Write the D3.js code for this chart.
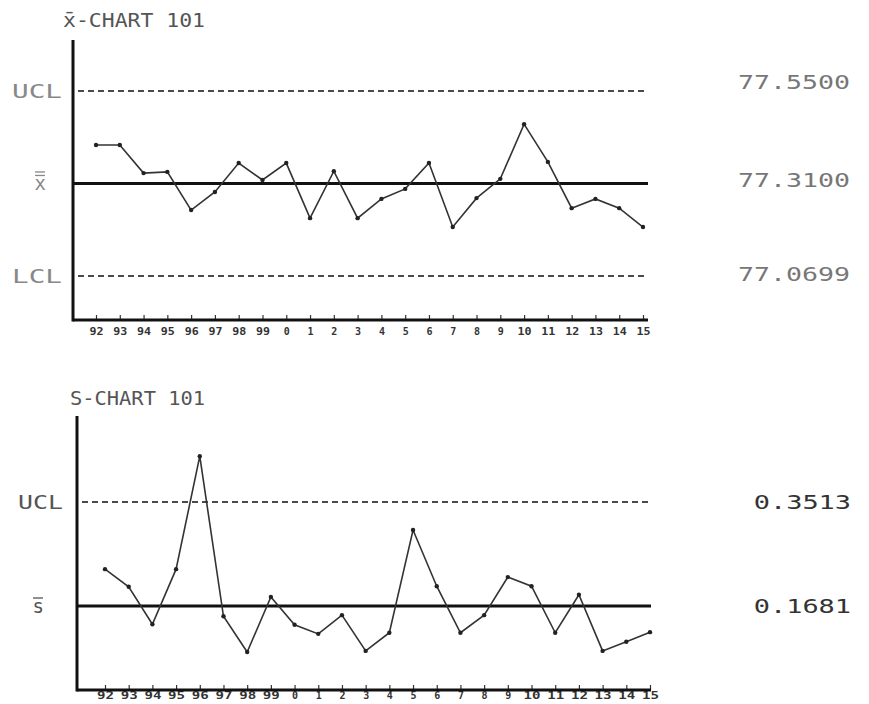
<!DOCTYPE html>
<html lang="en">
<head>
	<meta charset="UTF-8"/>
	<title>X-bar and S control charts 101</title>
	<script src="https://d3js.org/d3.v7.min.js"></script>
	<style>
		body { margin: 0; background: #fff; }
		text { font-family: "DejaVu Sans Mono", monospace; }
	</style>
</head>
<body>
	<script>
		var w = 869;
		var h = 704;

		// sample labels (years 92..99 then 0..15)
		var samples = ["92","93","94","95","96","97","98","99","0","1","2","3","4","5","6","7","8","9","10","11","12","13","14","15"];

		// x-bar chart values
		var xbarValues = [77.410, 77.410, 77.337, 77.340, 77.241, 77.288, 77.363, 77.319, 77.363, 77.220, 77.342, 77.220,
		                  77.270, 77.296, 77.363, 77.197, 77.272, 77.322, 77.464, 77.366, 77.246, 77.270, 77.246, 77.197];
		var xbarLimits = { ucl: 77.5500, cl: 77.3100, lcl: 77.0699 };
		var xbarLimitText = ["77.5500", "77.3100", "77.0699"];

		// s chart values
		var sValues = [0.233, 0.202, 0.136, 0.233, 0.432, 0.150, 0.087, 0.184, 0.135, 0.119, 0.152, 0.089,
		               0.121, 0.302, 0.203, 0.121, 0.152, 0.219, 0.203, 0.121, 0.188, 0.089, 0.105, 0.122];
		var sLimits = { ucl: 0.3513, cl: 0.1681 };
		var sLimitText = ["0.3513", "0.1681"];

		var svg = d3.select("body")
					.append("svg")
					.attr("width", w)
					.attr("height", h);

		//draws one control chart panel
		function drawChart(opt) {
			var g = svg.append("g");

			var xScale = d3.scalePoint()
							.domain(samples)
							.range(opt.xRange);

			var yScale = d3.scaleLinear()
							.domain(opt.yDomain)
							.range(opt.yRange);

			//title
			g.append("text")
				.attr("x", opt.titleX)
				.attr("y", opt.titleY)
				.attr("font-size", 20)
				.attr("fill", "#555")
				.attr("textLength", opt.titleLen)
				.attr("lengthAdjust", "spacingAndGlyphs")
				.text(opt.title);

			//x axis with short ticks pointing up
			var xAxis = d3.axisBottom(xScale)
							.tickSizeInner(-5)
							.tickSizeOuter(0)
							.tickPadding(opt.tickPad);

			var ax = g.append("g")
				.attr("transform", "translate(0," + opt.axisY + ")")
				.call(xAxis);
			ax.select(".domain").remove();
			ax.selectAll("line").attr("stroke", "#333").attr("stroke-width", 1.2);
			ax.selectAll("text")
				.attr("font-size", opt.tickFont)
				.attr("font-weight", "bold")
				.attr("fill", "#333")
				.attr("lengthAdjust", "spacingAndGlyphs")
				.attr("textLength", function(d) { return d.length > 1 ? opt.tickLen : null; });

			//axis frame
			g.append("line")
				.attr("x1", opt.axisX).attr("x2", opt.axisX)
				.attr("y1", opt.axisTop).attr("y2", opt.axisY + 1.5)
				.attr("stroke", "#111").attr("stroke-width", 3);
			g.append("line")
				.attr("x1", opt.axisX).attr("x2", opt.lineEnd)
				.attr("y1", opt.axisY).attr("y2", opt.axisY)
				.attr("stroke", "#111").attr("stroke-width", 3);

			//control limit lines
			opt.limits.forEach(function(l) {
				var y = yScale(l.value);
				g.append("line")
					.attr("x1", l.dashed ? opt.axisX + 5 : opt.axisX)
					.attr("x2", opt.lineEnd)
					.attr("y1", y).attr("y2", y)
					.attr("stroke", "#111")
					.attr("stroke-width", l.dashed ? 1.6 : 2.8)
					.attr("stroke-dasharray", l.dashed ? "6,4" : null);

				var lab = g.append("text")
					.attr("x", l.bars ? opt.symbolX : opt.labelX)
					.attr("y", y)
					.attr("dy", "0.35em")
					.attr("text-anchor", "end")
					.attr("font-size", 19)
					.attr("fill", opt.labelColor)
					.text(l.label);
				if (l.label.length > 1) {
					lab.attr("textLength", opt.labelLen).attr("lengthAdjust", "spacingAndGlyphs");
				}

				//overbars on the x / s symbol
				for (var b = 0; b < (l.bars || 0); b++) {
					g.append("line")
						.attr("x1", opt.symbolX - 11).attr("x2", opt.symbolX - 1)
						.attr("y1", y - 8 - b * 3.5).attr("y2", y - 8 - b * 3.5)
						.attr("stroke", opt.labelColor).attr("stroke-width", 1.3);
				}

				g.append("text")
					.attr("x", opt.valueX)
					.attr("y", y + l.valueDy)
					.attr("dy", "0.35em")
					.attr("text-anchor", "end")
					.attr("font-size", 20)
					.attr("fill", opt.valueColor)
					.attr("textLength", opt.valueLen * l.text.length)
					.attr("lengthAdjust", "spacingAndGlyphs")
					.text(l.text);
			});

			//data line
			var line = d3.line()
						.x(function(d, i) { return xScale(samples[i]); })
						.y(function(d) { return yScale(d); });

			g.append("path")
				.datum(opt.values)
				.attr("d", line)
				.attr("fill", "none")
				.attr("stroke", "#333")
				.attr("stroke-width", 1.6);

			g.selectAll("circle")
				.data(opt.values)
				.enter()
				.append("circle")
				.attr("cx", function(d, i) { return xScale(samples[i]); })
				.attr("cy", function(d) { return yScale(d); })
				.attr("r", 2.2)
				.attr("fill", "#222");
		}

		drawChart({
			title: "x\u0304-CHART 101",
			titleX: 63, titleY: 27, titleLen: 142,
			values: xbarValues,
			xRange: [96, 643],
			yDomain: [xbarLimits.lcl, xbarLimits.ucl],
			yRange: [276, 91],
			axisX: 73, axisTop: 40, axisY: 320, lineEnd: 648,
			tickFont: 10, tickLen: 14, tickPad: 8,
			labelX: 62, labelLen: 50, labelColor: "#888", symbolX: 46,
			valueX: 850, valueLen: 16, valueColor: "#777",
			limits: [
				{ value: xbarLimits.ucl, dashed: true, label: "UCL", text: xbarLimitText[0], valueDy: -9 },
				{ value: xbarLimits.cl, dashed: false, label: "x", bars: 2, text: xbarLimitText[1], valueDy: -3 },
				{ value: xbarLimits.lcl, dashed: true, label: "LCL", text: xbarLimitText[2], valueDy: -2 }
			]
		});

		drawChart({
			title: "S-CHART 101",
			titleX: 70, titleY: 405, titleLen: 135,
			values: sValues,
			xRange: [105, 650],
			yDomain: [sLimits.cl, sLimits.ucl],
			yRange: [606, 502],
			axisX: 77, axisTop: 416, axisY: 690, lineEnd: 651,
			tickFont: 10, tickLen: 17, tickPad: 2,
			labelX: 63, labelLen: 45, labelColor: "#555", symbolX: 44,
			valueX: 851, valueLen: 16.2, valueColor: "#333",
			limits: [
				{ value: sLimits.ucl, dashed: true, label: "UCL", text: sLimitText[0], valueDy: 0 },
				{ value: sLimits.cl, dashed: false, label: "s", bars: 1, text: sLimitText[1], valueDy: 0 }
			]
		});
	</script>
</body>
</html>
